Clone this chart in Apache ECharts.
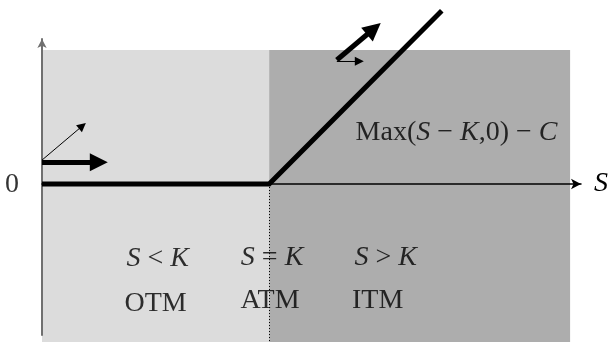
<!DOCTYPE html>
<html><head><meta charset="utf-8">
<script src="https://cdn.jsdelivr.net/npm/echarts@6/dist/echarts.min.js"></script>
<style>html,body{margin:0;padding:0;background:#fff}#c{width:611px;height:342px}</style>
</head><body><div id="c"></div>
<script>
// ---- data (S in price units, strike K = 100; payoff in same units) ----
const strike = 100;
const payoffS = [0, 100, 176];
const payoffV = [0, 0, 76];
const regionNames = ['OTM', 'ITM'];
const regionX0 = [0, 100];
const regionX1 = [100, 232.5];
const regionBottom = -69.3;
const regionTop = 58.8;
// arrow start points and arrow-head centre points
const thickArrowFrom = [[0, 9.6], [129.8, 54.4]];
const thickArrowTo = [[25, 9.6], [146.1, 68.1]];
const thinArrowFrom = [[0, 10.5], [129.8, 53.8]];
const thinArrowTo = [[17.8, 25.5], [139.7, 53.8]];
const labelTexts = ['{i|S} < {i|K}', 'OTM', '{i|S} = {i|K}', 'ATM', '{i|S} > {i|K}', 'ITM', 'Max({i|S} − {i|K},0) − {i|C}', '0'];
const labelS = [50.9, 50, 101.3, 100.4, 151.3, 147.8, 182.5, -13.2];
const labelV = [-32.6, -52.3, -32.2, -51, -32.2, -51, 22.6, -0.3];
const axisName = 'S';
const xMin = 0, xMax = 237.3, yMin = -66.2, yMax = 63.6;

// ---- styles ----
const regionColors = ['#dcdcdc', '#adadad'];
const FONT = '"Liberation Serif", "Times New Roman", serif';
const FS = 28;

const chart = echarts.init(document.getElementById('c'), null, {renderer: 'canvas'});
chart.setOption({
  animation: false,
  backgroundColor: '#ffffff',
  grid: {left: 42, right: 28, top: 39, bottom: 7},
  xAxis: {
    type: 'value', min: xMin, max: xMax, z: 5,
    axisLine: {show: true, onZero: true, symbol: ['none', 'arrow'], symbolSize: [8, 10],
      lineStyle: {color: '#000', width: 1.5}},
    axisTick: {show: false}, axisLabel: {show: false}, splitLine: {show: false},
    name: axisName, nameLocation: 'end', nameGap: 13,
    nameTextStyle: {fontFamily: FONT, fontSize: FS, fontStyle: 'italic', color: '#000', verticalAlign: 'middle', align: 'left', padding: [4, 0, 0, 0]}
  },
  yAxis: {
    type: 'value', min: yMin, max: yMax, z: 5,
    axisLine: {show: true, onZero: true, symbol: ['none', 'arrow'], symbolSize: [7, 9],
      lineStyle: {color: '#707070', width: 2}},
    axisTick: {show: false}, axisLabel: {show: false}, splitLine: {show: false}
  },
  series: [
    {
      type: 'custom', z: 1, clip: false, silent: true,
      encode: {x: [0, 1], y: [2, 3]},
      data: regionNames.map((n, i) => [regionX0[i], regionX1[i], regionBottom, regionTop]),
      renderItem(params, api) {
        const a = api.coord([api.value(0), api.value(3)]);
        const b = api.coord([api.value(1), api.value(2)]);
        return {type: 'rect', shape: {x: a[0], y: a[1], width: b[0] - a[0], height: b[1] - a[1]},
          style: {fill: regionColors[params.dataIndex]}};
      }
    },
    {
      type: 'lines', coordinateSystem: 'cartesian2d', z: 3, clip: false, silent: true,
      data: [{coords: [[strike, 0], [strike, regionBottom]]}],
      symbol: ['none', 'none'],
      lineStyle: {color: '#000', width: 1, type: [1, 2], opacity: 1}
    },
    {
      type: 'line', z: 10, clip: false, silent: true, symbol: 'none',
      data: payoffS.map((s, i) => [s, payoffV[i]]),
      lineStyle: {color: '#000', width: 5, join: 'miter'}
    },
    {
      type: 'lines', coordinateSystem: 'cartesian2d', z: 11, clip: false, silent: true,
      data: thickArrowFrom.map((f, i) => ({coords: [f, thickArrowTo[i]]})),
      symbol: ['none', 'triangle'], symbolSize: [19, 18],
      lineStyle: {color: '#000', width: 5, opacity: 1}
    },
    {
      type: 'lines', coordinateSystem: 'cartesian2d', z: 11, clip: false, silent: true,
      data: thinArrowFrom.map((f, i) => ({coords: [f, thinArrowTo[i]]})),
      symbol: ['none', 'triangle'], symbolSize: [7, 9],
      lineStyle: {color: '#000', width: 1, opacity: 1}
    },
    {
      type: 'scatter', z: 12, clip: false, silent: true, symbolSize: 0,
      data: labelTexts.map((t, i) => [labelS[i], labelV[i], t]),
      label: {
        show: true, position: 'inside', color: '#000',
        fontFamily: FONT, fontSize: FS, align: 'center', verticalAlign: 'middle',
        formatter: p => p.data[2],
        rich: {i: {fontFamily: FONT, fontSize: FS, fontStyle: 'italic', color: '#000'}}
      }
    }
  ]
});
</script></body></html>
